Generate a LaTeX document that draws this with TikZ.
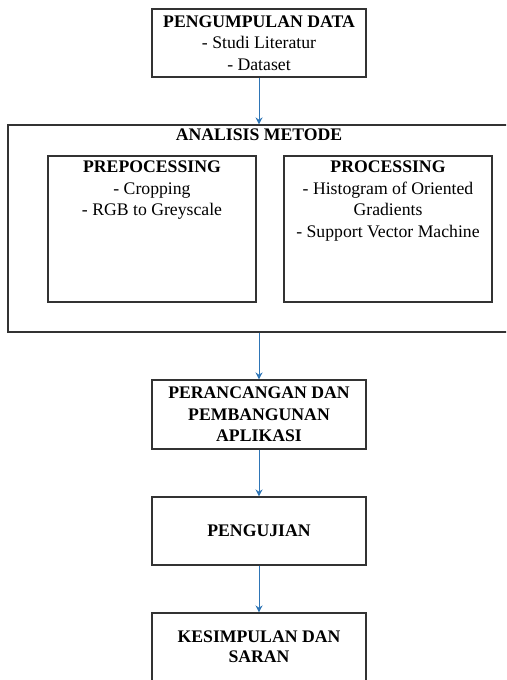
\documentclass[tikz,border=0pt]{standalone}
\usepackage{fontspec}
\setmainfont{Liberation Serif}
\usetikzlibrary{arrows.meta}
\definecolor{arrowblue}{RGB}{46,117,182}
\tikzset{
    box/.style={draw=black!80, line width=1.1pt, inner sep=0pt, align=center,
        font=\fontsize{17.7}{21.7}\selectfont},
    txt/.style={inner sep=0pt, align=center, anchor=north,
        font=\fontsize{17.7}{21.7}\selectfont},
    flow/.style={draw=arrowblue, line width=1pt, -{Stealth[length=7pt,width=7pt]}}
}
\begin{document}
\begin{tikzpicture}[x=1pt, y=-1pt]
    \clip (0,0) rectangle (506,680);
    \fill[white] (0,0) rectangle (506,680);
    \node[box, minimum width=214pt, minimum height=68pt] (data) at (259,43)
        {\textbf{PENGUMPULAN DATA}\\- Studi Literatur\\- Dataset};
    \scoped{
        \node[box, minimum width=502pt, minimum height=207pt] (analisis) at (259,228.5) {};
        \node[txt] (analisistext) at ([yshift=-4pt]analisis.north) {\textbf{ANALISIS METODE}};
        \node[box, minimum width=208pt, minimum height=146pt] (prepro) at (152,229) {};
        \node[txt] (preprotext) at ([yshift=-5pt]prepro.north)
            {\textbf{PREPOCESSING}\\- Cropping\\- RGB to Greyscale};
        \node[box, minimum width=208pt, minimum height=146pt] (pro) at (388,229) {};
        \node[txt] (protext) at ([yshift=-5pt]pro.north)
            {\textbf{PROCESSING}\\- Histogram of Oriented\\Gradients\\- Support Vector Machine};
    };
    \node[box, minimum width=214pt, minimum height=69pt] (rancang) at (259,414.5)
        {\textbf{PERANCANGAN DAN}\\\textbf{PEMBANGUNAN}\\\textbf{APLIKASI}};
    \node[box, minimum width=214pt, minimum height=68pt] (uji) at (259,531)
        {\textbf{PENGUJIAN}};
    \node[box, minimum width=214pt, minimum height=68pt, font=\fontsize{17.7}{20}\selectfont] (simpulan) at (259,647)
        {\textbf{KESIMPULAN DAN}\\\textbf{SARAN}};
    \draw[flow] (data) -- (analisis);
    \draw[flow] (analisis) -- (rancang);
    \draw[flow] (rancang) -- (uji);
    \draw[flow] (uji) -- (simpulan);
\end{tikzpicture}
\end{document}
